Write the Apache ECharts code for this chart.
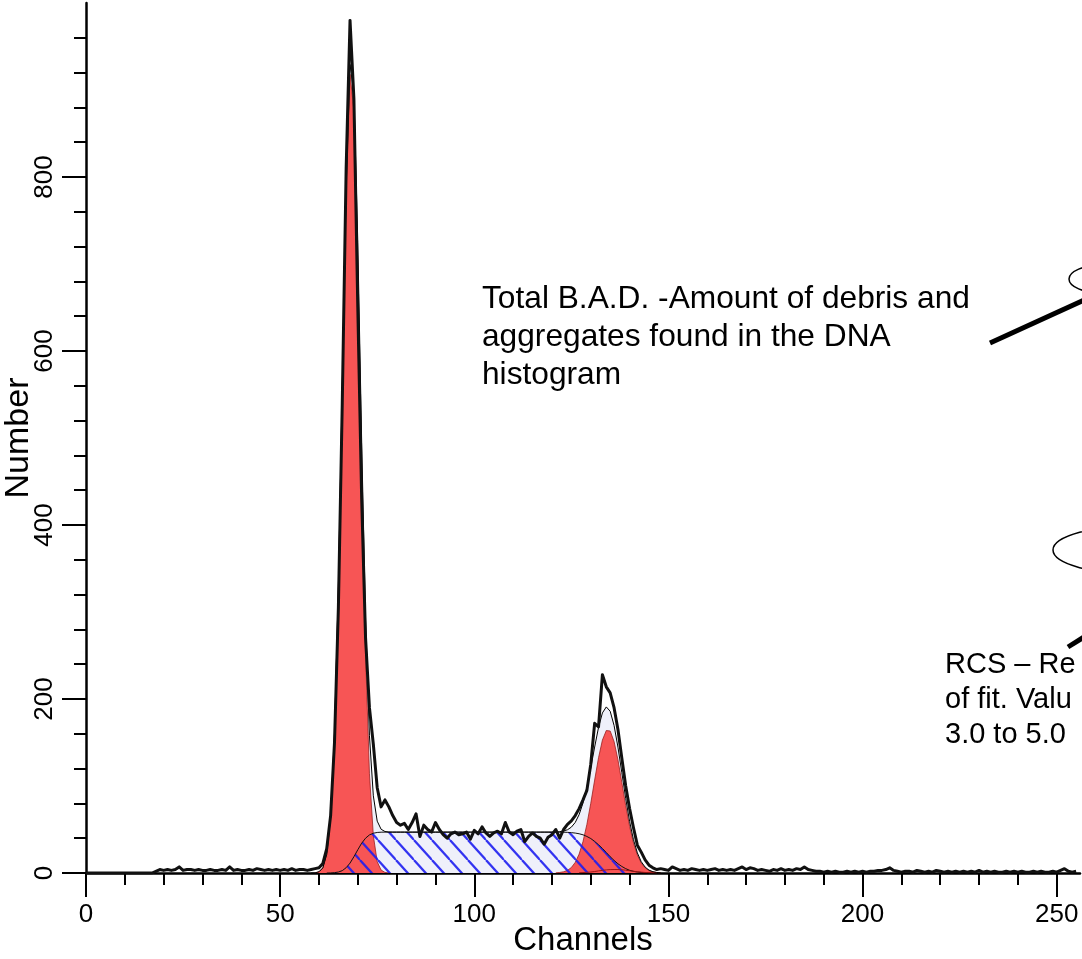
<!DOCTYPE html>
<html>
<head>
<meta charset="utf-8">
<script src="https://cdn.jsdelivr.net/npm/echarts@6/dist/echarts.min.js"></script>
<style>
html,body{margin:0;padding:0;background:#fff;}
#chart{width:1082px;height:959px;}
</style>
</head>
<body>
<div id="chart"></div>
<script>
// ---------- DATA ----------
// Raw histogram counts, channel 0..255
const rawCounts = [
 0,0,0,0,0,0,0,0,0,0,
 0,0,0,0,0,0,0,0,2,4,
 3,4,3,4,7,3,4,4,3,4,
 3,3,4,3,3,4,3,7,3,4,
 3,3,4,3,5,4,3,4,3,4,
 3,4,3,5,3,4,4,3,4,5,
 6,11,28,66,150,305,540,810,980,890,
 650,430,270,190,148,98,76,84,76,66,
 58,55,57,50,58,68,42,55,50,47,
 58,50,44,40,45,47,44,45,47,39,
 49,45,53,46,42,46,48,45,58,47,
 44,48,50,36,42,46,42,40,33,41,
 44,50,40,50,56,60,66,74,84,95,
 125,172,168,228,214,207,190,165,132,100,
 74,52,32,24,15,9,6,4,5,4,
 3,7,5,3,4,3,5,4,3,4,
 3,4,5,3,4,3,4,3,5,7,
 4,6,5,3,4,3,2,4,3,5,
 3,4,3,5,4,7,4,3,2,2,
 1,2,1,2,1,1,2,1,2,1,
 2,1,2,2,3,3,4,6,3,2,
 1,2,2,1,3,2,1,2,1,3,
 2,1,2,1,2,1,2,1,2,1,
 3,1,2,1,2,1,1,2,1,2,
 1,2,1,1,2,1,2,1,1,2,
 1,3,5,2,1,2
];
// G1 peak model, channels 59..78
const g1Start = 59;
const g1Fit = [0.2,1.4,5.9,21.5,64,160,328,557,782,918,876,698,461,251,114,43,13,3.4,0.7,0.1];
// G2 peak model, channels 121..148
const g2Start = 121;
const g2Fit = [0.2,0.6,1.4,3.0,6.3,12.2,21.7,36.1,55.8,80.1,106.8,132.5,152.8,163.8,163.2,151.1,130.1,104.1,77.5,53.6,34.4,20.6,11.4,5.9,2.8,1.3,0.5,0.2];
// S-phase model, channels 62..146
const sStart = 62;
const sFit = [0,0.1,0.4,1.1,2.7,6.1,11.4,18.7,26.7,34.3,40.0,43.8,45.7,46.6,46.9,
 47,47,47,47,47,47,47,47,47,47,47,47,47,47,47,47,47,47,47,47,47,47,47,47,47,47,47,47,47,47,47,47,47,47,47,47,47,47,47,47,47,47,47,47,47,
 46.9,46.9,46.7,46.4,45.9,45.1,43.9,42.0,39.6,36.3,32.5,28.2,23.5,18.8,14.5,10.6,7.5,5.0,3.1,1.9,1.1,0.6,0.3,0.1,0];
// Aggregates model, channels 127..147
const aggStart = 127;
const aggFit = [0.3,0.5,0.8,1.1,1.7,2.4,3.0,3.6,3.9,4.0,4.0,3.7,3.2,2.6,2.0,1.4,1.0,0.6,0.4,0.2,0.1];
// Total model fit, channels 58..148
const totalStart = 58;
const totalFit = [0,0.2,1.4,5.9,21.5,64.1,160.4,329.1,559.7,788.1,929.4,894.7,724.7,495.3,291,157.8,88.7,59.6,50.3,47.7,47.1,
 47,47,47,47,47,47,47,47,47,47,47,47,47,47,47,47,47,47,47,47,47,47,47,47,47,47,47,47,47,47,47,47,47,47,47,47,47,47,47,47,47,47,47,
 47.5,48.3,49.7,52.7,58.1,67.1,80.5,98.6,120.8,144.8,167.4,184.0,190.9,185.9,169.6,144.7,115.3,85.7,59.3,38.3,23.1,13.0,6.8,3.3,1.5,0.6,0.2];

const xMajorTicks = [0,50,100,150,200,250];
const xMinorTicks = [10,20,30,40,60,70,80,90,110,120,130,140,160,170,180,190,210,220,230,240];
const yMajorTicks = [0,200,400,600,800];

const note1 = 'Total B.A.D. -Amount of debris and\naggregates found in the DNA\nhistogram';
const note2 = 'RCS \u2013 Re\nof fit. Valu\n3.0 to 5.0';

// ---------- helpers ----------
function toPairs(start, arr){ return arr.map(function(v,i){ return [start+i, v]; }); }
function makeHatch(){
  const w = 18, h = 20;
  const c = document.createElement('canvas');
  c.width = w; c.height = h;
  const g = c.getContext('2d');
  g.strokeStyle = 'rgba(30,30,240,0.9)';
  g.lineWidth = 2.2;
  for (let k=-1;k<=1;k++){
    g.beginPath();
    g.moveTo(k*w, 0);
    g.lineTo(k*w + w, h);
    g.stroke();
  }
  return c;
}

const FONT = '"Liberation Sans", Arial, sans-serif';
const chart = echarts.init(document.getElementById('chart'), null, {renderer:'canvas'});
const gridPos = {left:86, right:2, top:3, bottom:86, containLabel:false, outerBoundsMode:'none'};

const option = {
  animation:false,
  backgroundColor:'#fff',
  grid:[Object.assign({}, gridPos), Object.assign({}, gridPos)],
  xAxis:[
    {type:'value', gridIndex:0, min:0, max:256, interval:50,
     name:'Channels', nameLocation:'middle', nameGap:51, nameMoveOverlap:false,
     nameTextStyle:{fontFamily:FONT, fontSize:33, color:'#000'},
     axisLine:{show:true, onZero:false, lineStyle:{color:'#000', width:2.5}},
     axisTick:{show:true, customValues:xMajorTicks, length:24, lineStyle:{color:'#000', width:2}},
     axisLabel:{customValues:xMajorTicks, fontFamily:FONT, fontSize:26, color:'#000', margin:29},
     splitLine:{show:false}},
    {type:'value', gridIndex:1, min:0, max:256,
     axisLine:{show:false},
     axisTick:{show:true, customValues:xMinorTicks, length:12, lineStyle:{color:'#000', width:2}},
     axisLabel:{show:false}, splitLine:{show:false}}
  ],
  yAxis:[
    {type:'value', gridIndex:0, min:0, max:1000, interval:200,
     name:'Number', nameLocation:'middle', nameGap:50, nameMoveOverlap:false,
     nameTextStyle:{fontFamily:FONT, fontSize:34, color:'#000'},
     axisLine:{show:true, onZero:false, lineStyle:{color:'#000', width:2.5}},
     axisTick:{show:true, customValues:yMajorTicks, length:24, lineStyle:{color:'#000', width:2}},
     minorTick:{show:true, splitNumber:5, length:12, lineStyle:{color:'#000', width:2}},
     axisLabel:{customValues:yMajorTicks, rotate:90, fontFamily:FONT, fontSize:26, color:'#000', margin:28},
     splitLine:{show:false}},
    {type:'value', gridIndex:1, min:0, max:1000, show:false}
  ],
  graphic:[
    {type:'text', x:482, y:280, z:100, style:{text:note1, font:'31.7px ' + FONT, lineHeight:38, fill:'#000', textVerticalAlign:'top'}},
    {type:'line', z:100, shape:{x1:990, y1:343, x2:1084, y2:300}, style:{stroke:'#000', lineWidth:5}},
    {type:'ellipse', z:100, shape:{cx:1102, cy:279, rx:33, ry:14}, style:{fill:'none', stroke:'#000', lineWidth:1.5}},
    {type:'ellipse', z:100, shape:{cx:1144, cy:550, rx:91, ry:25}, style:{fill:'none', stroke:'#000', lineWidth:1.5}},
    {type:'line', z:100, shape:{x1:1068, y1:647, x2:1084, y2:637}, style:{stroke:'#000', lineWidth:5}},
    {type:'text', x:945, y:647, z:100, style:{text:note2, font:'29px ' + FONT, lineHeight:35, fill:'#000', textVerticalAlign:'top'}}
  ],
  series:[
    {type:'line', name:'Model area', xAxisIndex:0, yAxisIndex:0, data:toPairs(totalStart,totalFit), symbol:'none', silent:true,
     lineStyle:{width:0}, areaStyle:{color:'#eff0fa', opacity:1}, z:1},
    {type:'line', name:'G1', xAxisIndex:0, yAxisIndex:0, data:toPairs(g1Start,g1Fit), symbol:'none', silent:true,
     lineStyle:{width:0.8, color:'#9a2020'}, areaStyle:{color:'#f75555', opacity:1}, z:2},
    {type:'line', name:'G2', xAxisIndex:0, yAxisIndex:0, data:toPairs(g2Start,g2Fit), symbol:'none', silent:true,
     lineStyle:{width:0.8, color:'#9a2020'}, areaStyle:{color:'#f75555', opacity:1}, z:2},
    {type:'line', name:'S phase', xAxisIndex:0, yAxisIndex:0, data:toPairs(sStart,sFit), symbol:'none', silent:true,
     lineStyle:{width:1, color:'#111'}, areaStyle:{color:{image:makeHatch(), repeat:'repeat'}, opacity:1}, z:3},
    {type:'line', name:'Aggregates', xAxisIndex:0, yAxisIndex:0, data:toPairs(aggStart,aggFit), symbol:'none', silent:true,
     lineStyle:{width:1, color:'#a01515'}, z:4},
    {type:'line', name:'Model fit', xAxisIndex:0, yAxisIndex:0, data:toPairs(totalStart,totalFit), symbol:'none', silent:true,
     lineStyle:{width:1, color:'#000'}, z:5},
    {type:'line', name:'Data', xAxisIndex:0, yAxisIndex:0, data:toPairs(0,rawCounts), symbol:'none', silent:true,
     lineStyle:{width:3, color:'#111', join:'round'}, z:6}
  ]
};
chart.setOption(option);
</script>
</body>
</html>
